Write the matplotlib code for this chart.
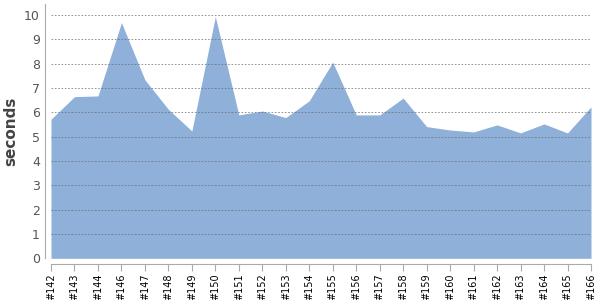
import matplotlib
matplotlib.use("Agg")
import matplotlib.pyplot as plt

builds = ['#142', '#143', '#144', '#146', '#147', '#148', '#149', '#150',
          '#151', '#152', '#153', '#154', '#155', '#156', '#157', '#158',
          '#159', '#160', '#161', '#162', '#163', '#164', '#165', '#166']
seconds = [5.71, 6.64, 6.67, 9.68, 7.33, 6.12, 5.23, 9.93,
           5.89, 6.05, 5.78, 6.47, 8.06, 5.89, 5.89, 6.58,
           5.41, 5.27, 5.19, 5.48, 5.15, 5.52, 5.15, 6.22]

fig = plt.figure(figsize=(6, 3), dpi=100)
ax = fig.add_axes([0.085, 0.139, 0.9, 0.848])

x = list(range(len(builds)))
ax.fill_between(x, seconds, 0, color='#8eb0d9', linewidth=0, zorder=1)

ax.set_xlim(0, len(builds) - 1)
ax.set_ylim(0, 10.45)
ax.set_yticks(range(0, 11))
ax.set_xticks(x, builds)
ax.tick_params(axis='x', labelrotation=90, labelsize=7, labelcolor='black',
               length=5, color='#aaaaaa', pad=2)
ax.tick_params(axis='y', labelsize=9, colors='#555555', length=0, pad=4)
for lbl in ax.get_xticklabels():
    lbl.set_fontweight('bold')
    lbl.set_fontsize(7)

ax.grid(axis='y', linestyle=(0, (2, 2)), color='#666666', linewidth=0.6, alpha=0.8, zorder=2)
ax.set_axisbelow(False)

for side in ['top', 'right']:
    ax.spines[side].set_visible(False)
for side in ['left', 'bottom']:
    ax.spines[side].set_color('#aaaaaa')
    ax.spines[side].set_position(('outward', 4))

ax.set_ylabel('seconds', fontsize=11, fontweight='bold', color='#444444', labelpad=4)

fig.savefig('out.png', dpi=100)
